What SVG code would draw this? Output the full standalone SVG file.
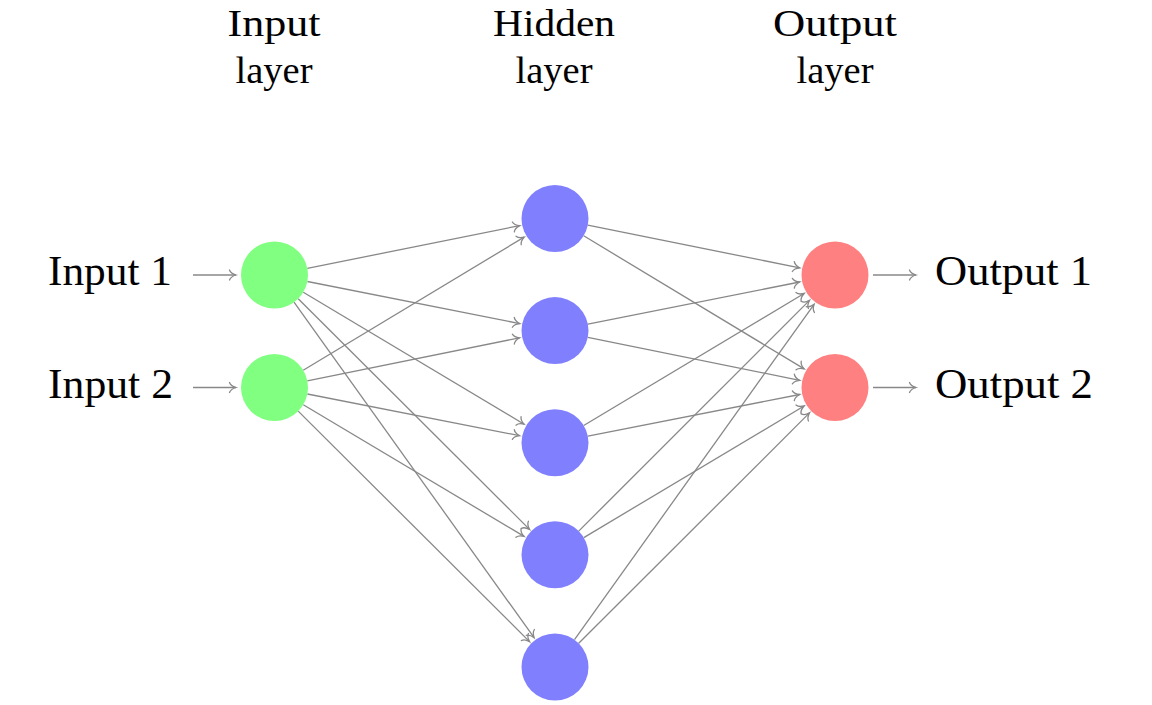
<svg xmlns="http://www.w3.org/2000/svg" width="1152" height="705" viewBox="0 0 1152 705">
<defs>
<marker id="to" markerUnits="userSpaceOnUse" orient="auto" refX="0" refY="0" markerWidth="14" markerHeight="14" viewBox="-8 -7 14 14" overflow="visible">
<path d="M-6.5,-5 C-5.5,-2.2 -2,-0.6 0,0 C-2,0.6 -5.5,2.2 -6.5,5" fill="none" stroke="#888888" stroke-width="1.3" stroke-linecap="round"/>
</marker>
</defs>
<style>
.edge{stroke:#888888;stroke-width:1.3;fill:none;marker-end:url(#to);}
.in{fill:#80FF80;}
.hid{fill:#8080FF;}
.out{fill:#FF8080;}
</style>
<rect width="1152" height="705" fill="#ffffff"/>
<g id="headers" font-family="Liberation Serif" font-size="38" text-anchor="middle" fill="#000000">
<text x="274" y="36" textLength="93" lengthAdjust="spacingAndGlyphs">Input</text>
<text x="274" y="83" textLength="77" lengthAdjust="spacingAndGlyphs">layer</text>
<text x="554" y="36" textLength="122" lengthAdjust="spacingAndGlyphs">Hidden</text>
<text x="554" y="83" textLength="77" lengthAdjust="spacingAndGlyphs">layer</text>
<text x="835" y="36" textLength="124" lengthAdjust="spacingAndGlyphs">Output</text>
<text x="835" y="83" textLength="77" lengthAdjust="spacingAndGlyphs">layer</text>
</g>
<g id="connectors">
<line class="edge" x1="193" y1="275" x2="236" y2="275"/>
<line class="edge" x1="193" y1="387.5" x2="236" y2="387.5"/>
<line class="edge" x1="873" y1="275" x2="916" y2="275"/>
<line class="edge" x1="873" y1="387.5" x2="916" y2="387.5"/>
<line class="edge" x1="307.3" y1="268.4" x2="519.7" y2="225.6"/>
<line class="edge" x1="307.4" y1="281.5" x2="519.7" y2="323.6"/>
<line class="edge" x1="303.3" y1="292.2" x2="524.1" y2="424.2"/>
<line class="edge" x1="298.2" y1="298.7" x2="529.5" y2="529.4"/>
<line class="edge" x1="294.0" y1="302.2" x2="534.1" y2="637.7"/>
<line class="edge" x1="303.2" y1="370.2" x2="524.2" y2="237.1"/>
<line class="edge" x1="307.3" y1="380.8" x2="519.7" y2="337.8"/>
<line class="edge" x1="307.4" y1="394.0" x2="519.7" y2="435.7"/>
<line class="edge" x1="303.3" y1="404.7" x2="524.1" y2="536.4"/>
<line class="edge" x1="298.2" y1="411.1" x2="529.5" y2="641.6"/>
<line class="edge" x1="587.8" y1="225.1" x2="799.7" y2="267.9"/>
<line class="edge" x1="583.7" y1="235.8" x2="804.2" y2="368.9"/>
<line class="edge" x1="587.9" y1="324.1" x2="799.7" y2="282.0"/>
<line class="edge" x1="587.8" y1="337.3" x2="799.7" y2="380.3"/>
<line class="edge" x1="583.7" y1="425.5" x2="804.1" y2="293.5"/>
<line class="edge" x1="587.9" y1="436.2" x2="799.7" y2="394.5"/>
<line class="edge" x1="578.7" y1="531.1" x2="809.5" y2="300.4"/>
<line class="edge" x1="583.8" y1="537.6" x2="804.1" y2="406.0"/>
<line class="edge" x1="574.5" y1="639.7" x2="814.1" y2="304.3"/>
<line class="edge" x1="578.7" y1="643.3" x2="809.5" y2="412.9"/>
</g>
<g id="input1"><circle class="in" cx="274.5" cy="275" r="33.5"/><text font-family="Liberation Serif" font-size="42" fill="#000000" x="48" y="285" textLength="124" lengthAdjust="spacingAndGlyphs">Input 1</text></g>
<g id="input2"><circle class="in" cx="274.5" cy="387.5" r="33.5"/><text font-family="Liberation Serif" font-size="42" fill="#000000" x="48" y="397.5" textLength="125" lengthAdjust="spacingAndGlyphs">Input 2</text></g>
<g id="hidden1"><circle class="hid" cx="555" cy="218.5" r="33.5"/></g>
<g id="hidden2"><circle class="hid" cx="555" cy="330.6" r="33.5"/></g>
<g id="hidden3"><circle class="hid" cx="555" cy="442.7" r="33.5"/></g>
<g id="hidden4"><circle class="hid" cx="555" cy="554.8" r="33.5"/></g>
<g id="hidden5"><circle class="hid" cx="555" cy="667" r="33.5"/></g>
<g id="output1"><circle class="out" cx="835" cy="275" r="33.5"/><text font-family="Liberation Serif" font-size="42" fill="#000000" x="935" y="285" textLength="157" lengthAdjust="spacingAndGlyphs">Output 1</text></g>
<g id="output2"><circle class="out" cx="835" cy="387.5" r="33.5"/><text font-family="Liberation Serif" font-size="42" fill="#000000" x="935" y="397.5" textLength="158" lengthAdjust="spacingAndGlyphs">Output 2</text></g>
</svg>
